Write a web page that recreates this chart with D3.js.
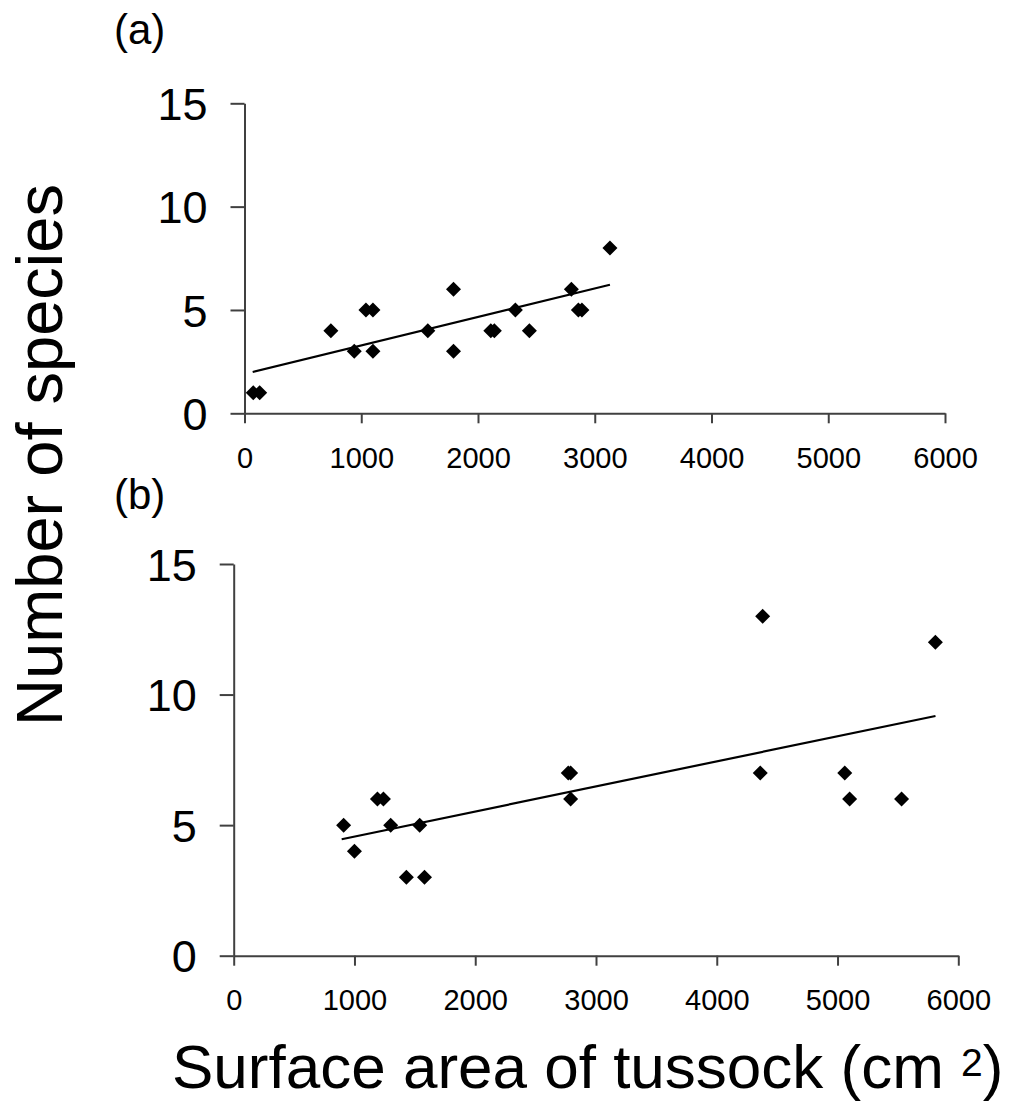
<!DOCTYPE html>
<html>
<head>
<meta charset="utf-8">
<script src="https://cdn.jsdelivr.net/npm/d3@7"></script>
<style>
  body { margin: 0; background: #fff; }
  svg { display: block; font-family: "Liberation Sans", Arial, sans-serif; }
  .axis path, .axis line { stroke: #404040; stroke-width: 2; }
</style>
</head>
<body>
<svg width="1033" height="1101"></svg>
<script>
// panel (a)
const areaA = [75, 130, 740, 940, 1040, 1100, 1100, 1570, 1790, 1790, 2110, 2140, 2320, 2440, 2800, 2860, 2890, 3130];
const speciesA = [1, 1, 4, 3, 5, 5, 3, 4, 6, 3, 4, 4, 5, 4, 6, 5, 5, 8];
const trendAreaA = [70, 3130];
const trendSpeciesA = [2.0, 6.22];

// panel (b)
const areaB = [910, 1000, 1190, 1240, 1300, 1430, 1540, 1580, 2770, 2790, 2790, 4360, 4380, 5060, 5100, 5530, 5810];
const speciesB = [5, 4, 6, 6, 5, 3, 5, 3, 7, 7, 6, 7, 13, 7, 6, 6, 12];
const trendAreaB = [894, 5811];
const trendSpeciesB = [4.46, 9.18];

// ticks
const xTicks = [0, 1000, 2000, 3000, 4000, 5000, 6000];
const yTicks = [0, 5, 10, 15];

const svg = d3.select("svg");

function panel(opts) {
  const x = d3.scaleLinear().domain([0, 6000]).range([opts.left, opts.right]);
  const y = d3.scaleLinear().domain([0, 15]).range([opts.bottom, opts.top]);

  // x axis
  svg.append("g")
    .attr("class", "axis")
    .attr("transform", "translate(0," + opts.bottom + ")")
    .call(d3.axisBottom(x).tickValues(xTicks).tickFormat(d3.format("d"))
      .tickSize(10).tickSizeOuter(0).tickPadding(24))
    .call((g) => g.selectAll("text").attr("font-size", 29).attr("fill", "#000").attr("font-family", null));

  // y axis
  svg.append("g")
    .attr("class", "axis")
    .attr("transform", "translate(" + opts.left + ",0)")
    .call(d3.axisLeft(y).tickValues(yTicks).tickSize(14).tickSizeOuter(0).tickPadding(23))
    .call((g) => g.selectAll("text").attr("font-size", 45).attr("fill", "#000").attr("font-family", null).attr("dy", "0.36em"));

  // trendline
  const trend = opts.trendX.map((v, i) => [v, opts.trendY[i]]);
  svg.append("path")
    .datum(trend)
    .attr("fill", "none")
    .attr("stroke", "#000")
    .attr("stroke-width", 2.2)
    .attr("d", d3.line().x((d) => x(d[0])).y((d) => y(d[1])));

  // diamonds
  const r = 7.5;
  const pts = opts.xs.map((v, i) => [v, opts.ys[i]]);
  svg.append("g")
    .selectAll("path")
    .data(pts)
    .enter()
    .append("path")
    .attr("fill", "#000")
    .attr("d", (d) => {
      const cx = x(d[0]), cy = y(d[1]);
      return "M" + cx + "," + (cy - r) + "L" + (cx + r) + "," + cy + "L" + cx + "," + (cy + r) + "L" + (cx - r) + "," + cy + "Z";
    });

  // panel label
  svg.append("text")
    .attr("x", 114)
    .attr("y", opts.labelY)
    .attr("font-size", 42)
    .text(opts.label);
}

panel({ left: 244.5, right: 945, top: 103.3, bottom: 413.3, xs: areaA, ys: speciesA,
        trendX: trendAreaA, trendY: trendSpeciesA, label: "(a)", labelY: 44 });
panel({ left: 233.7, right: 958.3, top: 564, bottom: 955.7, xs: areaB, ys: speciesB,
        trendX: trendAreaB, trendY: trendSpeciesB, label: "(b)", labelY: 509 });

// y axis title
svg.append("text")
  .attr("text-anchor", "middle")
  .attr("transform", "translate(62,455)rotate(-90)")
  .attr("font-size", 65)
  .text("Number of species");

// x axis title
const xt = svg.append("text")
  .attr("x", 172)
  .attr("y", 1088)
  .attr("font-size", 62);
xt.append("tspan").text("Surface area of tussock (cm ");
xt.append("tspan").attr("font-size", 39).attr("dy", -12).text("2");
xt.append("tspan").attr("dy", 12).text(")");
</script>
</body>
</html>
